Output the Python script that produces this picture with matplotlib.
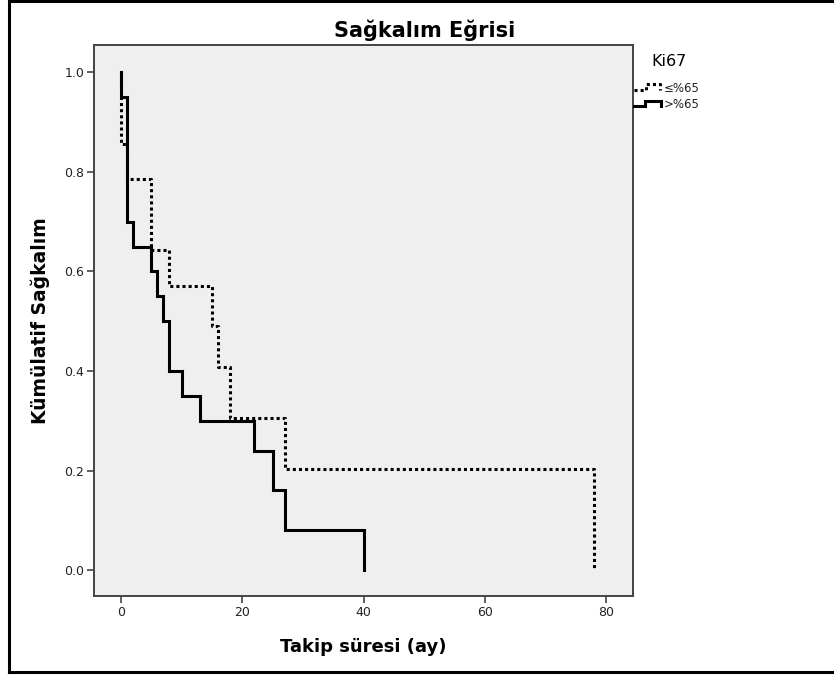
import matplotlib
matplotlib.use("Agg")
import matplotlib.pyplot as plt
from matplotlib.lines import Line2D

plt.rcParams['font.family'] = ['DejaVu Sans']

# Data
low_times = [0, 1, 5, 8, 15, 16, 18, 27, 78]
low_surv = [0.857, 0.786, 0.643, 0.571, 0.490, 0.408, 0.306, 0.204, 0.0]
high_times = [0, 1, 2, 5, 6, 7, 8, 10, 13, 22, 25, 27, 40]
high_surv = [0.95, 0.70, 0.65, 0.60, 0.55, 0.50, 0.40, 0.35, 0.30, 0.24, 0.16, 0.08, 0.0]
group_labels = ["≤%65", ">%65"]
legend_title = "Ki67"
x_ticks = [0, 20, 40, 60, 80]
y_ticks = [0.0, 0.2, 0.4, 0.6, 0.8, 1.0]

W, H = 834, 677
fig = plt.figure(figsize=(W / 100, H / 100), dpi=100)
fig.patch.set_facecolor("white")

# axes placement in pixels
left, right, top, bottom = 94, 633, 45, 596
ax = fig.add_axes([left / W, 1 - bottom / H, (right - left) / W, (bottom - top) / H])
ax.set_facecolor("#efefef")

ax.step([0] + low_times, [1.0] + low_surv, where="post", color="black",
        lw=2.2, linestyle=(0, (1, 1)), dash_capstyle="butt", solid_joinstyle="miter")
ax.step([0] + high_times, [1.0] + high_surv, where="post", color="black",
        lw=2.2, solid_joinstyle="miter")

ax.set_xlim(-4.45, 84.45)
ax.set_ylim(-0.052, 1.055)
ax.set_xticks(x_ticks)
ax.set_xticklabels([str(t) for t in x_ticks])
ax.set_yticks(y_ticks)
ax.set_yticklabels([f"{t:.1f}" for t in y_ticks])
ax.tick_params(direction="out", length=5, width=1.2, color="#444444",
               labelsize=9, labelcolor="#222222", pad=2)
for s in ax.spines.values():
    s.set_color("#444444")
    s.set_linewidth(1.4)

ax.set_xlabel("Takip süresi (ay)", fontsize=13, fontweight="bold", labelpad=14)
ax.set_ylabel("Kümülatif Sağkalım", fontsize=13.5, fontweight="bold", labelpad=10)
fig.text(425 / W, 1 - 30 / H, "Sağkalım Eğrisi", fontsize=15, fontweight="bold",
         ha="center", va="center")

# legend drawn in figure pixels
def fx(x):
    return x / W

def fy(y):
    return 1 - y / H

fig.text(fx(651), fy(62), legend_title, fontsize=11.5, ha="left", va="center")
icon_low_x = [634, 646, 646, 660, 660]
icon_low_y = [90, 90, 84, 84, 90]
icon_high_x = [634, 645, 645, 661, 661]
icon_high_y = [106, 106, 101, 101, 106]
fig.add_artist(Line2D([fx(v) for v in icon_low_x], [fy(v) for v in icon_low_y],
                      color="black", lw=2.2, linestyle=(0, (1, 1))))
fig.add_artist(Line2D([fx(v) for v in icon_high_x], [fy(v) for v in icon_high_y],
                      color="black", lw=2.2, solid_joinstyle="miter"))
fig.text(fx(664), fy(88), group_labels[0], fontsize=8.5, ha="left", va="center", color="#222222")
fig.text(fx(664), fy(104), group_labels[1], fontsize=8.5, ha="left", va="center", color="#222222")

# outer frame (top, left, bottom)
fig.add_artist(Line2D([fx(9), fx(9)], [fy(1), fy(672)], color="black", lw=2.2))
fig.add_artist(Line2D([fx(9), fx(834)], [fy(1), fy(1)], color="black", lw=2.2))
fig.add_artist(Line2D([fx(9), fx(834)], [fy(672), fy(672)], color="black", lw=2.2))

fig.savefig("out.png", dpi=100)
